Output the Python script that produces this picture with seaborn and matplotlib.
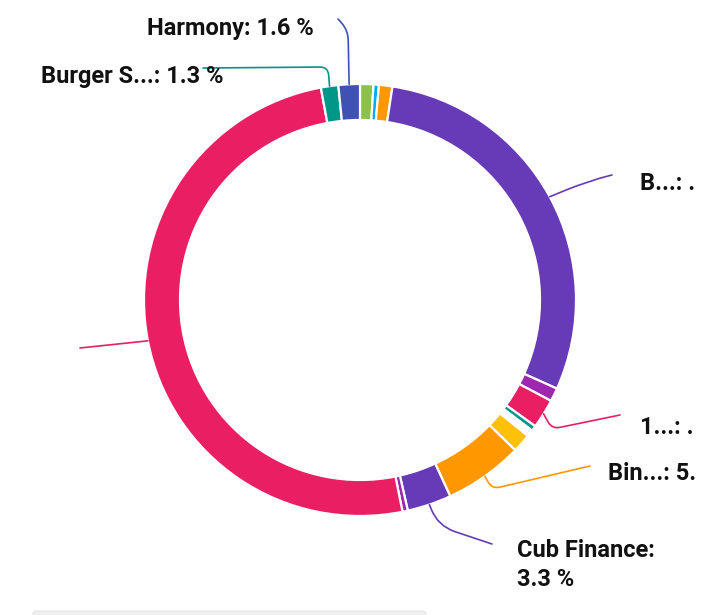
import numpy as np
import seaborn as sns
import matplotlib
matplotlib.use("Agg")
import matplotlib.pyplot as plt
from matplotlib.path import Path
from matplotlib.patches import PathPatch, Rectangle, FancyBboxPatch

# Slices, clockwise from 12 o'clock
names = ["", "", "", "B...", "", "1...", "", "", "", "Bin...",
         "Cub Finance", "", "", "Burger S...", "Harmony"]
values = [1.0, 0.4, 1.0, 29.3, 1.0, 2.2, 0.4, 0.5, 1.4, 5.9,
          3.3, 0.4, 50.2, 1.3, 1.6]
colors = ["#8BC34A", "#03A9F4", "#FF9800", "#673AB7", "#9C27B0",
          "#E91E63", "#009688", "#FFFFFF", "#FFC107", "#FF9800",
          "#673AB7", "#9C27B0", "#E91E63", "#009688", "#3F51B5"]

# what the chart actually shows (labels get truncated by the widget)
label_texts = {3: "B...: .", 5: "1...: .", 9: "Bin...: 5.",
               10: "Cub Finance:\n3.3 %", 12: "",
               13: "Burger S...: 1.3 %", 14: "Harmony: 1.6 %"}

# layout: slice index -> (text x, text y, elbow, end of leader, corner radius)
layout = {
    3: (640, 183, (588, 181), (612, 175), 25),
    5: (640, 427, (552, 429), (620, 415), 8),
    9: (608, 473, (492, 489), (590, 466), 8),
    10: (517, 565, (438, 526), (492, 544), 18),
    12: (0, 0, None, (80, 348), 0),
    13: (41, 76, (328, 67), (203, 68), 8),
    14: (147, 28, (348, 30), (338, 19), 10),
}

cx, cy, R, ring = 360, 300, 216, 36

sns.set_theme(style="white")
plt.rcParams["font.family"] = ["Roboto", "DejaVu Sans"]

fig = plt.figure(figsize=(7.2, 6.15), dpi=100)
ax = fig.add_axes([0, 0, 1, 1])

wedges, _ = ax.pie(values, colors=sns.color_palette(colors), startangle=270,
                   counterclock=True, center=(cx, cy), radius=R,
                   wedgeprops=dict(width=ring, edgecolor="white", linewidth=1.6))

ax.set_xlim(0, 720)
ax.set_ylim(615, 0)
ax.set_aspect("auto")
ax.axis("off")

clip = Rectangle((0, 0), 688, 615, transform=ax.transData)


def leader(p0, corner, p2, rr, color):
    p0 = np.array(p0, float)
    p2 = np.array(p2, float)
    if corner is None:
        verts, codes = [p0, p2], [Path.MOVETO, Path.LINETO]
    else:
        c = np.array(corner, float)
        d1 = c - p0
        d2 = p2 - c
        l1, l2 = np.linalg.norm(d1), np.linalg.norm(d2)
        a = c - d1 / l1 * min(rr, l1 * 0.9)
        b = c + d2 / l2 * min(rr, l2 * 0.9)
        verts = [p0, a, c, b, p2]
        codes = [Path.MOVETO, Path.LINETO, Path.CURVE3, Path.CURVE3, Path.LINETO]
    ax.add_patch(PathPatch(Path(verts, codes), fill=False, edgecolor=color,
                           lw=1.2, capstyle="round"))


for i, (tx, ty, corner, end, rr) in layout.items():
    w = wedges[i]
    mid = np.deg2rad((w.theta1 + w.theta2) / 2)
    p0 = (cx + R * np.cos(mid), cy + R * np.sin(mid))
    leader(p0, corner, end, rr, colors[i])
    if label_texts[i]:
        t = ax.text(tx, ty, label_texts[i], ha="left", va="center",
                    fontsize=17, fontweight="bold", color="#111111",
                    linespacing=1.3)
        t.set_clip_path(clip)

# faint scrollbar strip under the chart
ax.add_patch(FancyBboxPatch((33, 611), 393, 8, boxstyle="round,pad=0,rounding_size=3",
                            facecolor="#EEEEEE", edgecolor="#E4E4E4", lw=0.8))

fig.savefig("out.png", dpi=100)
